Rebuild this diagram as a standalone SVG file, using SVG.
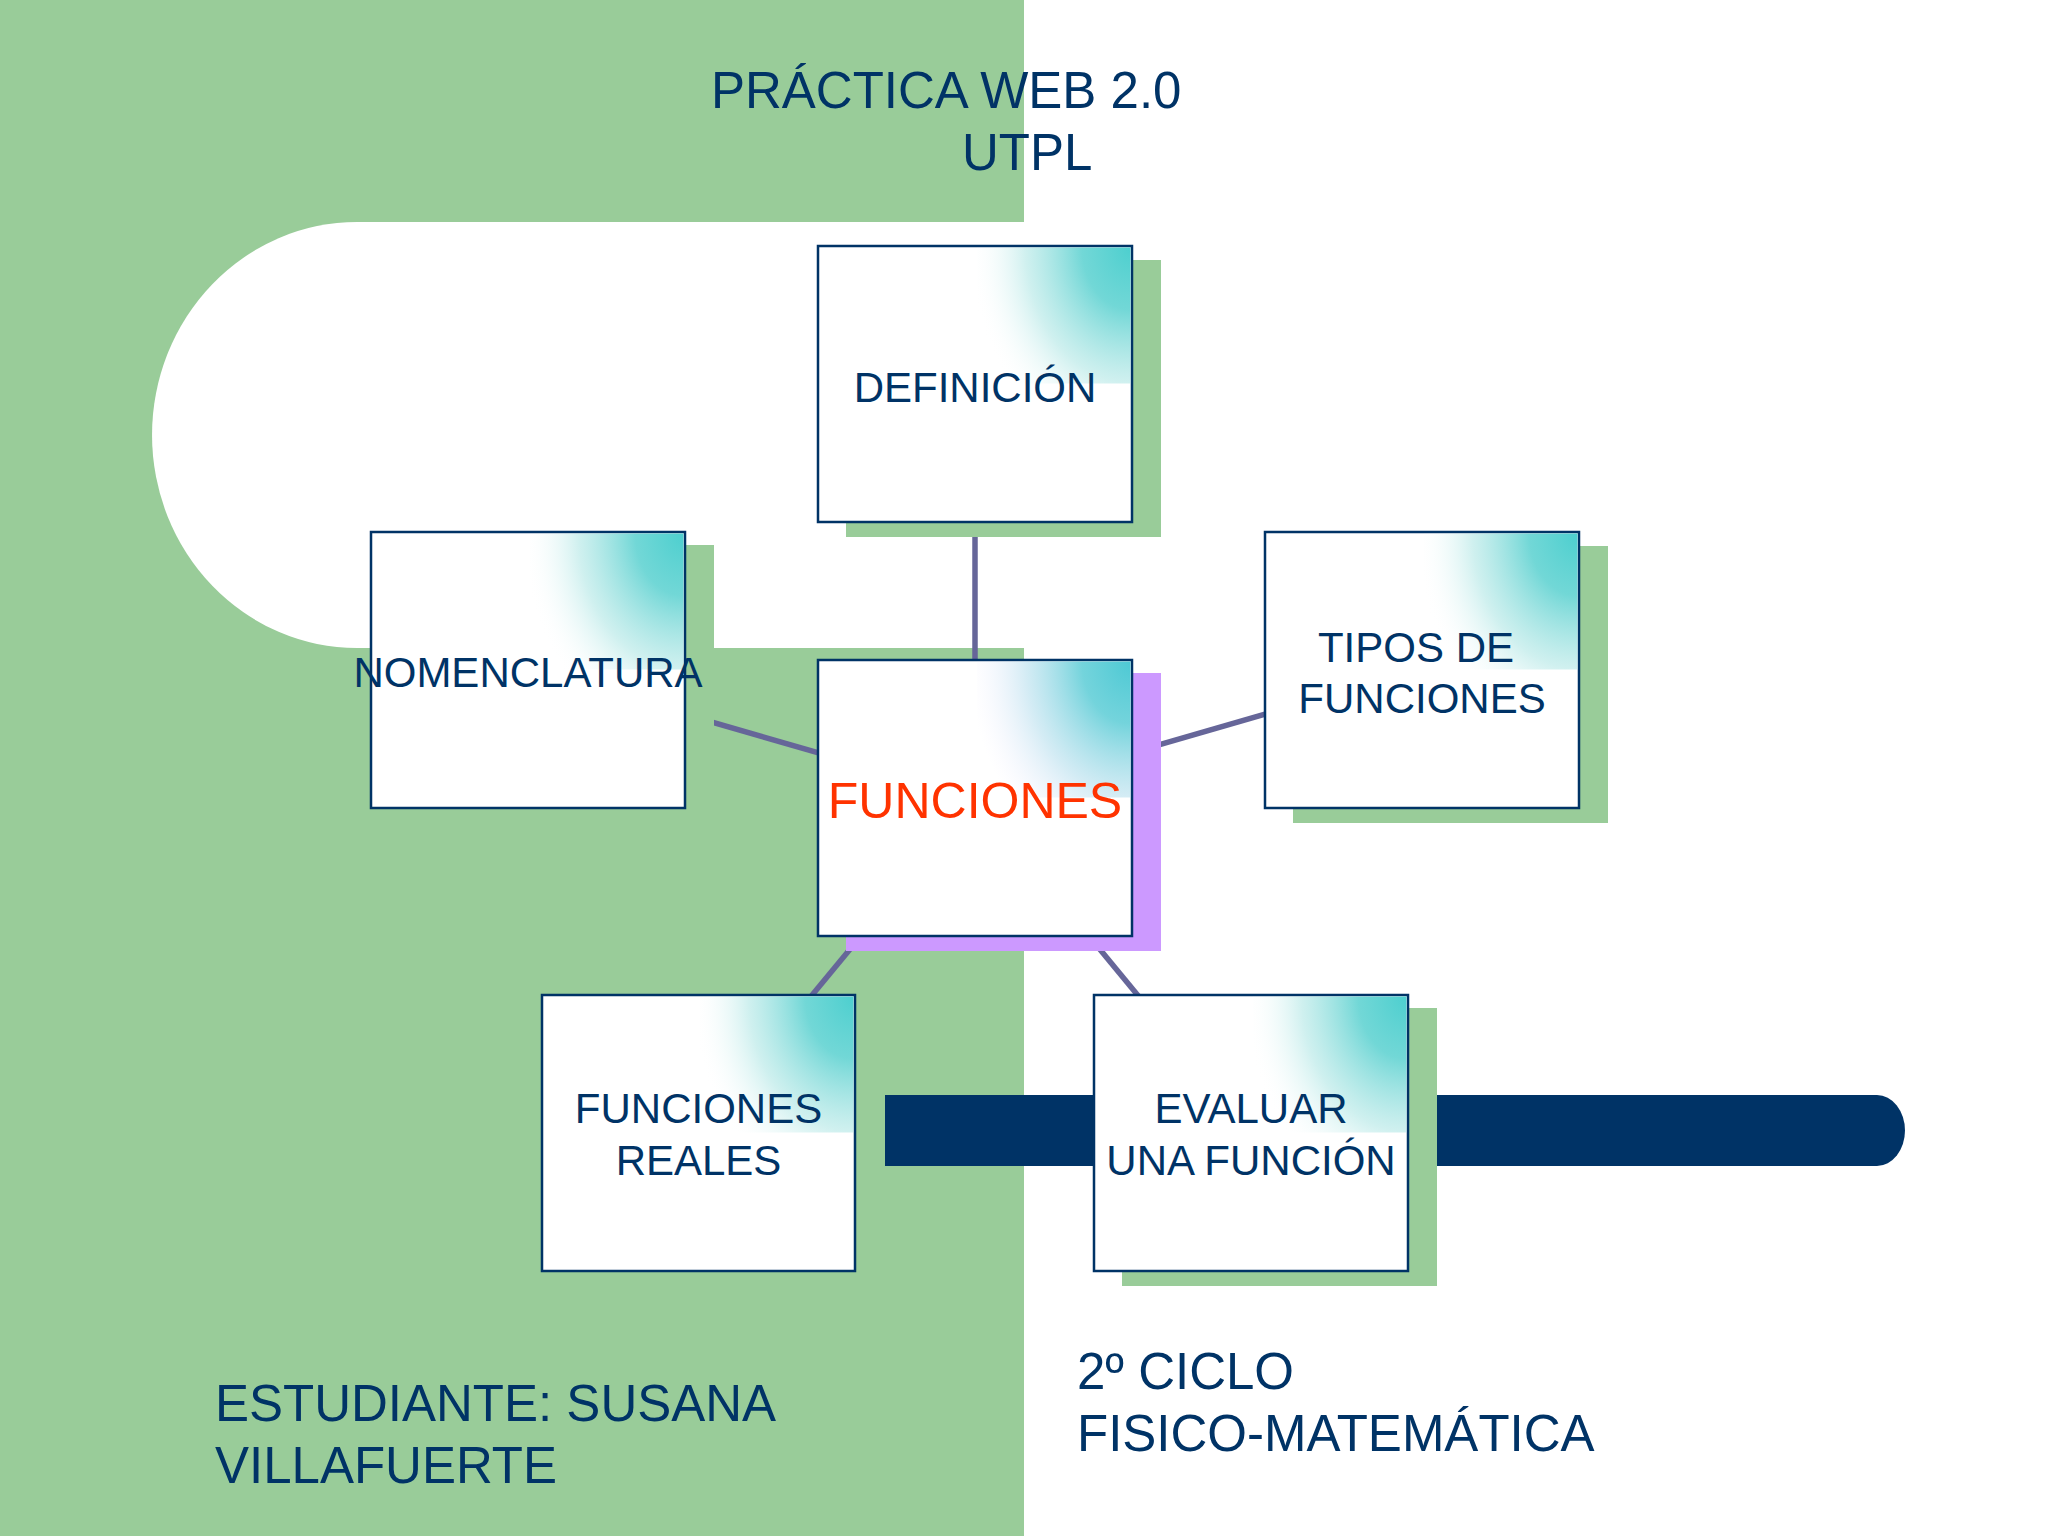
<svg xmlns="http://www.w3.org/2000/svg" width="2048" height="1536" viewBox="0 0 2048 1536">
<defs>
<style>
.txt{font-family:"Liberation Sans",Arial,"DejaVu Sans",sans-serif;fill:#003366;}
.big{font-size:51px;}
.lbl{font-size:42px;text-anchor:middle;}
.box{fill:#ffffff;stroke:#003366;stroke-width:2.5;}
.shadow{fill:#99cc99;}
.conn{stroke:#666699;stroke-width:5.5;fill:none;}
</style>
<radialGradient id="glow" cx="1" cy="0" r="1.05" gradientTransform="translate(1,0) scale(1,1.45) translate(-1,0)">
<stop offset="0" stop-color="#4dcfcf"/>
<stop offset="0.3" stop-color="#62d3d2" stop-opacity="0.9"/>
<stop offset="0.65" stop-color="#a8e4e2" stop-opacity="0.55"/>
<stop offset="1" stop-color="#ffffff" stop-opacity="0"/>
</radialGradient>
<radialGradient id="glowP" cx="1" cy="0" r="1.05" gradientTransform="translate(1,0) scale(1,1.45) translate(-1,0)">
<stop offset="0" stop-color="#4dc9d4"/>
<stop offset="0.3" stop-color="#64cfd8" stop-opacity="0.9"/>
<stop offset="0.65" stop-color="#b0dcec" stop-opacity="0.55"/>
<stop offset="1" stop-color="#eee8ff" stop-opacity="0"/>
</radialGradient>
</defs>

<!-- background -->
<rect x="0" y="0" width="2048" height="1536" fill="#ffffff"/>
<rect x="0" y="0" width="1024" height="1536" fill="#99cc99"/>
<path d="M1024 222 H357 A204 212 0 0 0 357 648 H1024 Z" fill="#ffffff"/>
<path d="M884 1095 H1877 A28 35.5 0 0 1 1877 1166 H884 Z" fill="#003366"/>

<!-- title -->
<text class="txt big" x="711" y="108">PRÁCTICA WEB 2.0</text>
<text class="txt big" x="962" y="170">UTPL</text>

<!-- connectors -->
<g id="connectors">
<line class="conn" x1="975" y1="798" x2="975" y2="384"/>
<line class="conn" x1="975" y1="798" x2="528" y2="669"/>
<line class="conn" x1="975" y1="798" x2="1421.5" y2="669"/>
<line class="conn" x1="975" y1="798" x2="698.5" y2="1132.5"/>
<line class="conn" x1="975" y1="798" x2="1251" y2="1132.5"/>
</g>

<g id="definicion">
<rect class="shadow" x="846" y="260" width="315" height="277"/>
<rect class="box" x="818" y="246" width="314" height="276"/>
<rect x="977" y="247.5" width="153.5" height="136" fill="url(#glow)"/>
<text class="txt lbl" x="975" y="402">DEFINICIÓN</text>
</g>

<g id="nomenclatura">
<rect class="shadow" x="399" y="545" width="315" height="277"/>
<rect class="box" x="371" y="532" width="314" height="276"/>
<rect x="530" y="533.5" width="153.5" height="136" fill="url(#glow)"/>
<text class="txt lbl" x="528" y="687">NOMENCLATURA</text>
</g>

<g id="tipos">
<rect class="shadow" x="1293" y="546" width="315" height="277"/>
<rect class="box" x="1265" y="532" width="314" height="276"/>
<rect x="1424" y="533.5" width="153.5" height="136" fill="url(#glow)"/>
<text class="txt lbl" x="1416" y="662">TIPOS DE</text>
<text class="txt lbl" x="1422" y="713">FUNCIONES</text>
</g>

<g id="funciones">
<rect x="846" y="673" width="315" height="278" fill="#cc99ff"/>
<rect class="box" x="818" y="660" width="314" height="276"/>
<rect x="977" y="661.5" width="153.5" height="136" fill="url(#glowP)"/>
<text x="975" y="818" font-family="'Liberation Sans',Arial,sans-serif" font-size="50" text-anchor="middle" fill="#ff3300">FUNCIONES</text>
</g>

<g id="funciones-reales">
<rect class="shadow" x="570" y="1008" width="315" height="278"/>
<rect class="box" x="542" y="995" width="313" height="276"/>
<rect x="700" y="996.5" width="153.5" height="136" fill="url(#glow)"/>
<text class="txt lbl" x="698.5" y="1123">FUNCIONES</text>
<text class="txt lbl" x="698.5" y="1175">REALES</text>
</g>

<g id="evaluar">
<rect class="shadow" x="1122" y="1008" width="315" height="278"/>
<rect class="box" x="1094" y="995" width="314" height="276"/>
<rect x="1253" y="996.5" width="153.5" height="136" fill="url(#glow)"/>
<text class="txt lbl" x="1251" y="1123">EVALUAR</text>
<text class="txt lbl" x="1251" y="1175">UNA FUNCIÓN</text>
</g>

<!-- footer -->
<text class="txt big" x="215" y="1421">ESTUDIANTE: SUSANA</text>
<text class="txt big" x="215" y="1483">VILLAFUERTE</text>
<text class="txt big" x="1077" y="1389">2º CICLO</text>
<text class="txt big" x="1077" y="1451">FISICO-MATEMÁTICA</text>
</svg>
